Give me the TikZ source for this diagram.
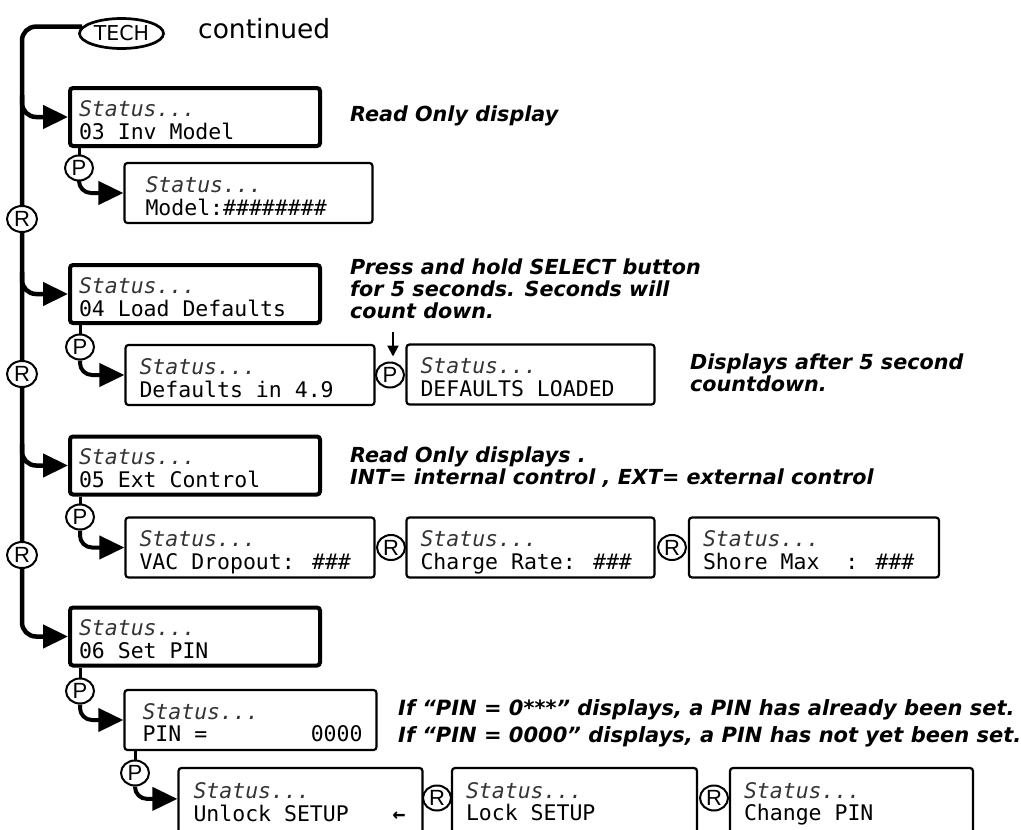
\documentclass[tikz,border=0pt]{standalone}
\usepackage{fontspec}
\setmainfont{DejaVu Sans}
\newfontfamily\monof{DejaVu Sans Mono}
\newfontfamily\circf{Liberation Sans}
\usetikzlibrary{arrows.meta,calc,shapes.geometric}
\newcommand\lcd[1]{\spaceskip=0pt\xspaceskip=0pt\begin{tabular}[t]{@{}l@{}}{\color{black!80}\itshape Status...}\\#1\end{tabular}}
\newcommand\notes[1]{\spaceskip=0pt\xspaceskip=0pt\begin{tabular}{@{}l@{}}#1\end{tabular}}
\tikzset{
  lcdbase/.style={draw, rectangle, rounded corners=3pt, inner ysep=0pt,
    text height=20pt, text depth=22pt,
    font=\monof\fontsize{21.5}{22}\selectfont},
  thickbox/.style={lcdbase, line width=4pt, inner xsep=9pt, text width=232pt, minimum height=58pt},
  thinbox/.style={lcdbase, line width=2.2pt, inner xsep=14pt, text width=221pt, minimum height=60pt},
  lowbox/.style={thinbox, text depth=32pt, minimum height=72pt},
  btn/.style={draw, ellipse, line width=2pt, fill=white, inner sep=0pt,
    minimum width=28pt, minimum height=25pt, font=\circf\fontsize{22}{22}\selectfont},
  spinebtn/.style={btn, minimum width=30pt, minimum height=26pt},
  flow/.style={line width=4.5pt, rounded corners=14pt, -{Triangle[length=25pt,width=23pt]}},
  pflow/.style={line width=4pt, rounded corners=12pt, -{Triangle[length=25pt,width=23pt]}},
  stub/.style={line width=3pt},
  anno/.style={anchor=west, inner sep=0pt,
    font=\bfseries\itshape\fontsize{20.7}{21.5}\selectfont},
  pointer/.style={line width=2.2pt, -{Triangle[length=11pt,width=11pt]}},
}
\begin{document}
\begin{tikzpicture}[x=1pt,y=-1pt]
\useasboundingbox (0,0) rectangle (1021,830);
\clip (0,0) rectangle (1021,830);
\node[draw, ellipse, line width=2.7pt, minimum width=84pt, minimum height=30pt, inner sep=0pt, font=\fontsize{20.5}{20.5}\selectfont] (tech) at (121.5,33.5) {TECH};
\node[anchor=base west, inner sep=0pt, font=\fontsize{26.5}{28}\selectfont] (cont) at (198,38) {continued};

\node[thickbox] (b03) at (195,117) {\lcd{03 Inv Model}};
\node[thinbox, inner xsep=21pt, text width=206pt] (mdl) at (248.5,193) {\lcd{Model:\#\#\#\#\#\#\#\#}};
\node[thickbox] (b04) at (195,294) {\lcd{04 Load Defaults}};
\node[thinbox] (dfl) at (250,375) {\lcd{Defaults in 4.9}};
\node[thinbox, text width=220pt] (dld) at (530.5,374.5) {\lcd{DEFAULTS LOADED}};
\node[thickbox] (b05) at (195,465.5) {\lcd{05 Ext Control}};
\node[thinbox] (vac) at (250,547.5) {\lcd{VAC Dropout: \#\#\#}};
\node[thinbox, text width=220pt] (chg) at (530.5,547.5) {\lcd{Charge Rate: \#\#\#}};
\node[thinbox, text width=222pt] (shr) at (814,547.5) {\lcd{Shore Max\ \ : \#\#\#}};
\node[thickbox] (b06) at (195,636.5) {\lcd{06 Set PIN}};
\node[thinbox, inner xsep=18pt, text width=216pt] (pin) at (250.5,720) {\lcd{PIN =\ \ \ \ \ \ \ \ 0000}};
\node[lowbox, inner xsep=15pt, text width=214pt] (unl) at (300.5,804) {\lcd{Unlock SETUP\ \ \ \hspace{5pt}{\bfseries ←}}};
\node[lowbox, text width=217pt] (lck) at (574.5,804) {\lcd{Lock SETUP}};
\node[lowbox, text width=215pt] (cpn) at (851.5,804) {\lcd{Change PIN}};

\coordinate (sx) at (22,0);
\draw[flow] (tech.170) -| (sx |- b06.west) -- (b06.west);
\draw[flow] ($(sx |- b03.west)+(0,-22)$) |- (b03.west);
\draw[flow] ($(sx |- b04.west)+(0,-22)$) |- (b04.west);
\draw[flow] ($(sx |- b05.west)+(0,-22)$) |- (b05.west);
\node[spinebtn] (r1) at (22,219) {R};
\node[spinebtn] (r2) at (22,374) {R};
\node[spinebtn] (r3) at (22,555) {R};

\node[btn] (p1) at (79,168) {P};
\node[btn] (p2) at (80,347) {P};
\node[btn] (p3) at (390,375) {P};
\node[btn] (p4) at (80,517) {P};
\node[btn] (p5) at (80,691) {P};
\node[btn] (p6) at (135,773) {P};
\node[btn] (r4) at (391,547.5) {R};
\node[btn] (r5) at (672,547.5) {R};
\node[btn] (r6) at (437,798) {R};
\node[btn] (r7) at (714,798) {R};

\draw[stub] (b03.south -| p1) -- (p1.north);
\draw[pflow] (p1.south) |- (mdl.west);
\draw[stub] (b04.south -| p2) -- (p2.north);
\draw[pflow] (p2.south) |- (dfl.west);
\draw[stub] (b05.south -| p4) -- (p4.north);
\draw[pflow] (p4.south) |- (vac.west);
\draw[stub] (b06.south -| p5) -- (p5.north);
\draw[pflow] (p5.south) |- (pin.west);
\draw[stub] (pin.south -| p6) -- (p6.north);
\draw[pflow] (p6.south) |- ($(unl.north west)+(0,32)$);

\coordinate (dtop) at (393,332);
\draw[pointer, shorten >=5pt] (dtop) -- (dtop |- p3.north);

\node[anno] (a1) at (350,117) {\notes{Read Only display}};
\node[anno] (a2) at (350,292) {\notes{Press and hold SELECT button\\for 5 seconds. Seconds will\\count down.}};
\node[anno] (a3) at (690,376) {\notes{Displays after 5 second\\countdown.}};
\node[anno] (a4) at (350,468.5) {\notes{Read Only displays .\\INT= internal control , EXT= external control}};
\node[anno, font=\bfseries\itshape\fontsize{21}{27}\selectfont] (a5) at (398,723.5) {\notes{If “PIN = 0***” displays, a PIN has already been set.\\If “PIN = 0000” displays, a PIN has not yet been set.}};
\end{tikzpicture}
\end{document}
